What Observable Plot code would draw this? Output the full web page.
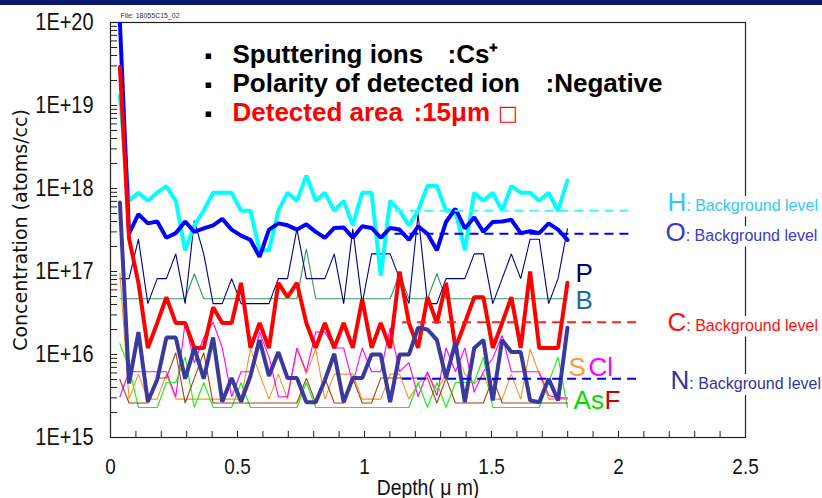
<!DOCTYPE html>
<html><head><meta charset="utf-8">
<script src="https://cdn.jsdelivr.net/npm/d3@7"></script>
<script src="https://cdn.jsdelivr.net/npm/@observablehq/plot@0.6"></script>
<style>
html,body{margin:0;padding:0;background:#fff;}
#wrap{position:relative;width:822px;height:498px;overflow:hidden;}
#topbar{position:absolute;left:0;top:0;width:822px;height:5px;background:#0b1a6e;}
</style></head><body>
<div id="wrap"><div id="chart"></div><div id="topbar"></div></div>
<script>
// ---- data ----
const depth = [0.037,0.073,0.110,0.147,0.184,0.220,0.257,0.294,0.330,0.367,0.404,0.440,0.477,0.514,0.551,0.587,0.624,0.661,0.697,0.734,0.771,0.808,0.844,0.881,0.918,0.954,0.991,1.028,1.064,1.101,1.138,1.175,1.211,1.248,1.285,1.321,1.358,1.395,1.432,1.468,1.505,1.542,1.578,1.615,1.652,1.688,1.725,1.762,1.799];
const H = [1.3e19,7.1e17,8.9e17,7.1e17,8.9e17,1.07e18,7.1e17,1.8e17,3.6e17,5.4e17,
 8.9e17,8.9e17,8.9e17,5.4e17,5.4e17,1.8e17,1.8e17,5.4e17,8.9e17,7.1e17,
 1.43e18,7.1e17,8.9e17,5.4e17,7.1e17,3.6e17,8.9e17,8.9e17,8.9e16,7.1e17,
 5.4e17,3.6e17,5.4e17,1.07e18,1.07e18,5.4e17,5.4e17,1.8e17,8.9e17,7.1e17,
 8.9e17,5.4e17,1.07e18,8.9e17,8.9e17,7.1e17,8.9e17,5.4e17,1.25e18];
const O = [1.0e20,2.85e17,4.9e17,3.8e17,4.0e17,2.55e17,2.9e17,4.0e17,3.0e17,3.3e17,
 3.6e17,4.3e17,3.2e17,2.7e17,2.4e17,1.5e17,3.2e17,3.8e17,3.6e17,3.2e17,
 3.7e17,3.0e17,2.55e17,3.35e17,3.4e17,2.55e17,3.5e17,3.35e17,2.55e17,3.35e17,
 3.2e17,2.4e17,3.5e17,2.85e17,1.8e17,3.95e17,5.7e17,3.3e17,4.5e17,3.0e17,
 3.95e17,4.0e17,4.2e17,2.9e17,3.05e17,2.9e17,3.8e17,3.2e17,2.4e17];
const C = [2.9e19,2.5e17,7.3e16,1.2e16,2.4e16,4.9e16,2.4e16,2.4e16,1.2e16,1.2e16,
 3.7e16,2.4e16,2.4e16,7.3e16,1.2e16,2.4e16,1.2e16,7.3e16,4.9e16,7.3e16,
 2.4e16,1.2e16,2.4e16,1.2e16,2.4e16,1.2e16,4.6e16,1.2e16,2.4e16,1.2e16,
 1.0e17,2.4e16,1.2e16,4.9e16,2.4e16,7.3e16,1.2e16,2.4e16,4.9e16,4.9e16,
 1.2e16,2.4e16,4.9e16,1.2e16,1.0e17,1.2e16,1.2e16,1.2e16,7.3e16];
const N = [6.8e17,4.5e15,1.86e16,2.7e15,5.0e15,1.6e16,1.6e16,5.1e15,1.2e16,5.1e15,
 1.6e16,2.7e15,5.2e15,2.7e15,5.5e15,1.5e16,5.5e15,1.07e16,5.2e15,5.2e15,
 2.66e15,2.66e15,4.9e15,1.02e16,2.66e15,5.2e15,5.2e15,1.0e16,1.0e16,2.66e15,
 1.0e16,1.0e16,2.1e16,2.0e16,1.5e16,5.2e15,1.4e16,2.66e15,1.2e16,1.5e16,
 2.8e15,1.5e16,1.07e16,1.07e16,2.8e15,2.66e15,5.1e15,2.8e15,2.1e16];
const P = [8.2e16,8.2e16,2.45e17,4.1e16,8.2e16,8.2e16,1.63e17,4.1e16,4.1e17,1.63e17,
 4.1e16,4.1e16,8.2e16,4.1e16,4.1e16,4.1e16,4.1e16,8.2e16,8.2e16,3.26e17,
 8.2e16,8.2e16,8.2e16,1.63e17,4.1e16,3.26e17,4.1e16,1.63e17,1.63e17,1.63e17,
 8.2e16,4.1e16,4.9e17,4.1e16,4.1e16,8.2e16,8.2e16,8.2e16,1.63e17,1.63e17,
 4.1e16,8.2e16,1.63e17,8.2e16,2.45e17,2.45e17,4.1e16,8.2e16,3.26e17];
const B = [4.7e16,4.7e16,4.7e16,4.7e16,4.7e16,4.7e16,4.7e16,4.7e16,9.4e16,4.7e16,
 4.7e16,4.7e16,4.7e16,4.7e16,4.7e16,4.7e16,4.7e16,4.7e16,4.7e16,4.7e16,
 1.88e17,4.7e16,4.7e16,4.7e16,4.7e16,4.7e16,4.7e16,4.7e16,4.7e16,4.7e16,
 9.4e16,4.7e16,4.7e16,4.7e16,9.4e16,4.7e16,4.7e16,4.7e16,4.7e16,4.7e16,
 4.7e16,4.7e16,4.7e16,4.7e16,4.7e16,4.7e16,4.7e16,4.7e16,4.7e16];
const S = [9.5e16,2.9e15,5.8e15,2.9e15,2.9e15,5.8e15,2.9e15,2.9e15,2.9e15,2.9e15,
 2.9e15,2.9e15,2.9e15,2.9e15,1.17e16,5.8e15,2.9e15,5.8e15,2.9e15,1.17e16,
 5.8e15,1.17e16,2.9e15,5.8e15,5.8e15,5.8e15,2.9e15,2.9e15,2.9e15,5.8e15,
 5.8e15,2.9e15,4.4e15,5.8e15,3.7e15,5.8e15,1.17e16,5.8e15,4.4e15,5.8e15,
 2.9e15,2.9e15,5.8e15,2.9e15,1.17e16,5.8e15,2.9e15,2.9e15,2.9e15];
const Cl = [3.1e15,6.2e15,6.2e15,6.2e15,6.2e15,6.2e15,3.1e15,2.45e16,7.9e15,1.6e16,
 2.45e16,1.2e16,3.1e15,6.2e15,6.2e15,1.86e16,9.3e15,3.1e15,3.1e15,1.2e16,
 6.2e15,1.86e16,1.86e16,1.2e16,1.2e16,4.5e15,1.2e16,6.2e15,6.2e15,2.1e16,
 6.2e15,8.0e15,3.1e15,6.2e15,3.2e15,1.2e16,6.2e15,1.2e16,3.5e15,6.2e15,
 9.0e15,1.7e16,6.2e15,6.2e15,6.2e15,6.2e15,3.2e15,3.0e15,3.0e15];
const As = [1.35e16,7.0e15,2.3e15,2.3e15,2.3e15,4.6e15,4.6e15,9.3e15,2.3e15,4.6e15,
 2.3e15,2.3e15,2.3e15,4.6e15,2.3e15,2.3e15,2.3e15,2.3e15,2.3e15,2.3e15,
 4.6e15,2.3e15,2.3e15,2.3e15,2.3e15,2.3e15,2.3e15,2.3e15,2.3e15,2.3e15,
 2.3e15,2.3e15,4.6e15,2.3e15,4.6e15,2.3e15,4.6e15,4.6e15,4.6e15,9.3e15,
 2.3e15,2.3e15,2.3e15,2.3e15,2.3e15,2.3e15,4.6e15,9.3e15,2.3e15];
const F = [5.0e15,2.6e15,2.6e15,2.6e15,5.2e15,5.2e15,1.05e16,2.6e15,5.2e15,1.05e16,
 2.6e15,2.6e15,2.6e15,2.6e15,2.6e15,2.6e15,2.6e15,2.6e15,2.6e15,2.6e15,
 5.2e15,2.6e15,5.2e15,2.6e15,2.6e15,5.2e15,2.6e15,2.6e15,5.2e15,5.2e15,
 5.2e15,5.2e15,5.2e15,5.2e15,2.6e15,5.2e15,2.6e15,2.6e15,2.6e15,2.6e15,
 5.2e15,2.6e15,2.6e15,2.6e15,2.6e15,2.6e15,2.6e15,2.6e15,2.6e15];

// background levels (element, level, depth range)
const bgElements = ["H","O","C","N"];
const bgLevel    = [5.4e17, 2.85e17, 2.45e16, 5.1e15];
const bgFrom     = [1.12, 1.12, 1.15, 1.15];
const bgTo       = [2.04, 2.06, 2.09, 2.08];
// label anchors for background labels (depth, concentration)
const bgLabelX = [2.193, 2.185, 2.193, 2.205];
const bgLabelY = [6.8e17, 2.95e17, 2.43e16, 4.86e15];
// element name labels
const elNames = ["P","B","S","Cl","As","F"];
const elLabelX = [1.831, 1.831, 1.803, 1.882, 1.823, 1.945];
const elLabelY = [9.5e16, 4.5e16, 7.0e15, 7.0e15, 2.8e15, 2.8e15];

const xTickValues = [0, 0.5, 1, 1.5, 2, 2.5];
const yTickValues = [1e15, 1e16, 1e17, 1e18, 1e19, 1e20];
const infoItems  = ["Sputtering ions", "Polarity of detected ion", "Detected area"];
const infoValues = [":Cs\u207A", ":Negative", ":15\u03BCm\u25A1"];
const fileLabel = "File: 18055C15_02";
const xTitle = "Depth( \u03BC m)";
const yTitle = "Concentration (atoms/cc)";

// ---- styles ----
const seriesStyle = [
  {name:"B",  values:B,  color:"#2e9a5a", w:1.1},
  {name:"P",  values:P,  color:"#000080", w:1.1},
  {name:"S",  values:S,  color:"#ff8c2a", w:1.1},
  {name:"Cl", values:Cl, color:"#ff00ff", w:1.1},
  {name:"As", values:As, color:"#22ee22", w:1.2},
  {name:"F",  values:F,  color:"#a04010", w:1.1},
  {name:"H",  values:H,  color:"#00ffff", w:4},
  {name:"O",  values:O,  color:"#0000ff", w:4},
  {name:"C",  values:C,  color:"#ff0000", w:4},
  {name:"N",  values:N,  color:"#3a3a9c", w:4}
];
const bgLineColor  = {H:"#33ffff", O:"#0000ff", C:"#ff2020", N:"#0000ff"};
const bgTextColor  = {H:"#33c8f5", O:"#3a3ac8", C:"#ff1010", N:"#34349a"};
const elColor = {P:"#000066", B:"#1a6e9e", S:"#ff9933", Cl:"#ff00ff", As:"#00dd00", F:"#cc0000"};

const NARROW = "'Liberation Sans Narrow','Arial Narrow','Liberation Sans',Arial,sans-serif";
const SANS = "'Liberation Sans',Arial,Helvetica,sans-serif";

const rows = seriesStyle.flatMap(s => depth.map((d, i) => ({el: s.name, depth: d, conc: s.values[i]})));
const bgRows = bgElements.map((e, i) => ({el: e, level: bgLevel[i], x1: bgFrom[i], x2: bgTo[i], lx: bgLabelX[i], ly: bgLabelY[i]}));
const elRows = elNames.map((e, i) => ({el: e, x: elLabelX[i], y: elLabelY[i]}));

const W = 822, Ht = 498, mL = 110, mR = 77, mT = 22, mB = 61;
const innerW = W - mL - mR, innerH = Ht - mT - mB;
const xMinor = d3.range(0, 26).map(k => k / 10);
const yMinor = d3.range(15, 20).flatMap(e => d3.range(1, 10).map(k => k * Math.pow(10, e)));

const headerMarks = [];
const lineBase = [40.5, 69.5, 98.5];
const valueDx = [337, 435, 303];
infoItems.forEach((t, k) => {
  const col = k === 2 ? "#ff0000" : "#000000";
  headerMarks.push(Plot.text(["\u25AA"], {frameAnchor:"top-left", dx:94, dy:lineBase[k], lineAnchor:"bottom", textAnchor:"start", fontSize:22, fontFamily:SANS, fill:"#000"}));
  headerMarks.push(Plot.text([t], {frameAnchor:"top-left", dx:122, dy:lineBase[k], lineAnchor:"bottom", textAnchor:"start", fontSize:26, fontWeight:"bold", fontFamily:SANS, fill:col}));
  headerMarks.push(Plot.text([infoValues[k]], {frameAnchor:"top-left", dx:valueDx[k], dy:lineBase[k], lineAnchor:"bottom", textAnchor:"start", fontSize:26, fontWeight:"bold", fontFamily:SANS, fill:col}));
});

const bgText = d => d.el + ": Background level";
const chart = Plot.plot({
  width: W, height: Ht,
  marginLeft: mL, marginRight: mR, marginTop: mT, marginBottom: mB,
  style: {fontFamily: NARROW, background: "#fff", color: "#111"},
  x: {domain: [0, 2.5]},
  y: {type: "log", domain: [1e15, 1e20]},
  marks: [
    Plot.frame({stroke: "#222", strokeWidth: 1.2}),
    Plot.axisX({ticks: xTickValues, tickSize: 0, tickPadding: 21, tickFormat: d => String(d), fontSize: 22, fontFamily: NARROW, label: null}),
    Plot.axisY({ticks: yTickValues, tickSize: 0, tickPadding: 17, tickFormat: d => "1E+" + Math.round(Math.log10(d)), fontSize: 24, fontFamily: NARROW, label: null}),
    Plot.tickX(xMinor, {x: d => d, insetTop: innerH - 6, stroke: "#222", strokeWidth: 1}),
    Plot.tickY(yMinor, {y: d => d, insetRight: innerW - 7, stroke: "#222", strokeWidth: 1}),
    ...seriesStyle.map(s => Plot.line(rows.filter(r => r.el === s.name), {x: "depth", y: "conc", stroke: s.color, strokeWidth: s.w, clip: true, strokeLinejoin: "miter"})),
    Plot.ruleY(bgRows, {y: "level", x1: "x1", x2: "x2", stroke: d => bgLineColor[d.el], strokeWidth: 2, strokeDasharray: "9,6"}),
    // white backing (halo) for the background-level labels, then the labels themselves
    Plot.text(bgRows, {x: "lx", y: "ly", text: bgText, textAnchor: "start", fontSize: 26, fontFamily: SANS, fill: "white", stroke: "white", strokeWidth: 12, strokeLinejoin: "round"}),
    Plot.text(bgRows, {x: "lx", y: "ly", text: bgText, textAnchor: "start", fontSize: 26, fontFamily: SANS, fill: d => bgTextColor[d.el]}),
    Plot.text(elRows, {x: "x", y: "y", text: "el", textAnchor: "start", fontSize: 26, fontFamily: SANS, fill: d => elColor[d.el]}),
    ...headerMarks,
    Plot.text([fileLabel], {frameAnchor: "top-left", dx: 10, dy: -5, lineAnchor: "bottom", textAnchor: "start", fontSize: 7, fontFamily: SANS, fill: "#333"}),
    Plot.text([xTitle], {frameAnchor: "bottom", dy: 57, lineAnchor: "bottom", textAnchor: "middle", fontSize: 22, fontFamily: NARROW, fill: "#111"}),
    Plot.text([yTitle], {frameAnchor: "left", dx: -90, rotate: -90, textAnchor: "middle", lineAnchor: "middle", fontSize: 19, fontFamily: "'DejaVu Sans',sans-serif", fill: "#111"})
  ]
});
document.getElementById("chart").appendChild(chart);
const svg = d3.select(chart);

// split the background labels into a large element symbol and a smaller suffix
svg.selectAll("text").filter(function() { return this.textContent.endsWith(": Background level"); })
  .each(function() {
    const full = this.textContent;
    const sel = d3.select(this);
    sel.text(null);
    sel.append("tspan").attr("font-size", 26).text(full.slice(0, 1));
    sel.append("tspan").attr("font-size", 16).text(full.slice(1));
  });

// the area box glyph in a heavier face
svg.selectAll("text").filter(function() { return this.textContent.endsWith("\u25A1"); })
  .each(function() {
    const full = this.textContent;
    const sel = d3.select(this);
    sel.text(null);
    sel.append("tspan").text(full.slice(0, -1));
    sel.append("tspan").attr("font-family", "'DejaVu Sans',sans-serif").attr("font-size", 21).attr("dx", 8).attr("dy", -1).text(full.slice(-1));
  });

// condensed look for the axis texts (the reference uses a narrow face)
function condense(node, f) {
  const len = node.getComputedTextLength();
  if (len > 0) { node.setAttribute("textLength", (len * f).toFixed(1)); node.setAttribute("lengthAdjust", "spacingAndGlyphs"); }
}
svg.selectAll('g[aria-label="y-axis tick label"] text').each(function() { condense(this, 0.83); });
svg.selectAll('g[aria-label="x-axis tick label"] text').each(function() { condense(this, 0.86); });
svg.selectAll("text").filter(function() { return this.textContent === xTitle; }).each(function() { condense(this, 0.88); });
</script>
</body></html>
